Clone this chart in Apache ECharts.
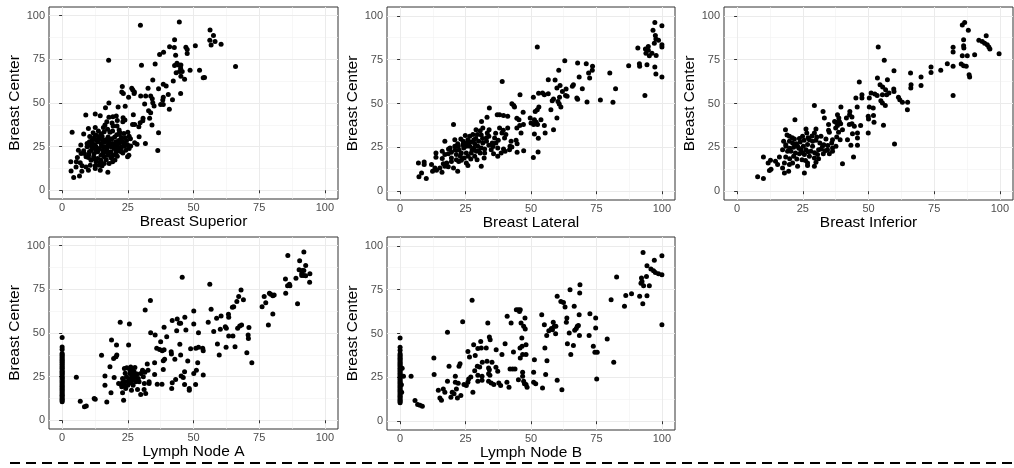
<!DOCTYPE html>
<html><head><meta charset="utf-8">
<script src="https://cdn.jsdelivr.net/npm/echarts@6/dist/echarts.min.js"></script>
<style>html,body{margin:0;padding:0;background:#fff}#c{width:1014px;height:468px}</style>
</head><body><div id="c"></div>
<script>
const yTitle = 'Breast Center';
const xTitles = ['Breast Superior', 'Breast Lateral', 'Breast Inferior', 'Lymph Node A', 'Lymph Node B'];
const tickValues = [0, 25, 50, 75, 100];
const minorValues = [12.5, 37.5, 62.5, 87.5];

const superiorPts = [[29.8,94.6],[44.6,96.4],[56.3,91.8],[57.6,88.7],[56.2,86.0],[58.2,85.2],[56.7,83.3],[60.5,83.7],[66.0,70.9],[42.8,86.2],[40.9,82.2],[42.7,81.8],[47.1,82.0],[47.6,80.7],[50.7,82.8],[38.6,79.1],[37.1,77.8],[43.2,77.4],[47.6,78.4],[17.7,74.5],[35.4,72.4],[30.2,71.6],[43.7,72.8],[44.3,71.8],[45.2,71.8],[42.8,71.5],[45.1,69.9],[48.7,68.8],[52.3,68.8],[43.4,67.4],[44.7,68.0],[45.7,68.0],[45.2,65.3],[46.6,63.6],[54.2,64.6],[53.7,64.4],[34.5,63.2],[42.3,62.6],[38.5,60.7],[39.6,59.8],[22.9,59.4],[32.7,58.4],[36.7,58.2],[26.5,58.4],[26.9,57.5],[22.7,56.3],[23.3,55.4],[27.5,56.3],[27.4,55.4],[45.1,55.4],[40.4,54.8],[25.3,53.3],[29.9,54.0],[31.8,54.0],[33.7,54.0],[38.5,53.3],[38.3,51.7],[34.3,52.5],[34.5,50.2],[42.0,51.9],[17.8,50.0],[37.5,49.2],[38.5,49.2],[31.4,49.4],[35.0,48.3],[24.0,48.1],[21.3,47.7],[16.5,47.3],[40.8,46.4],[32.9,45.6],[33.7,44.4],[9.0,43.1],[12.6,43.7],[14.5,42.7],[19.3,42.1],[20.6,42.5],[27.1,43.3],[17.8,41.8],[23.2,41.6],[30.8,41.2],[33.3,41.2],[23.9,40.2],[23.1,39.3],[17.0,39.3],[30.7,39.8],[29.7,38.7],[26.8,37.7],[27.6,37.7],[34.2,37.4],[20.9,36.8],[19.4,36.8],[16.3,37.4],[29.2,36.4],[10.0,35.4],[12.6,36.0],[15.7,36.0],[36.7,33.0],[3.8,33.3],[25.0,33.3],[21.7,32.2],[8.2,32.2],[10.5,30.8],[18.2,33.3],[29.3,30.7],[20.0,30.5],[14.3,30.8],[22.5,30.3],[24.0,30.1],[17.9,28.7],[13.0,28.7],[27.6,27.2],[31.7,26.8],[28.5,26.4],[7.1,25.9],[24.9,26.1],[26.1,25.3],[17.3,25.5],[22.7,24.9],[36.4,22.8],[25.5,24.0],[23.1,21.3],[25.4,20.1],[24.9,19.2],[11.0,23.0],[9.5,24.9],[8.2,22.6],[10.0,18.8],[12.0,19.2],[5.8,18.8],[3.3,16.3],[5.4,16.3],[6.9,15.7],[7.6,14.0],[9.1,13.4],[3.4,11.1],[6.6,8.2],[4.4,7.3],[7.5,10.9],[10.0,11.5],[12.6,14.0],[15.2,14.0],[17.4,10.3],[20.1,17.4],[18.6,18.6],[21.7,22.6],[14.8,17.2],[13.5,27.8],[14.8,26.8],[16.0,24.9],[14.1,24.0],[12.9,24.9],[11.6,24.0],[15.4,23.0],[16.7,22.0],[13.5,22.0],[12.2,21.1],[14.8,20.1],[17.3,20.1],[18.6,22.0],[19.8,24.0],[20.5,21.1],[16.0,19.2],[13.5,18.2],[11.0,17.2],[9.1,19.2],[8.5,21.1],[10.4,22.0],[12.9,16.3],[16.0,15.3],[17.9,15.3],[19.2,16.3],[14.1,14.4],[17.3,27.8],[19.2,26.8],[18.6,24.9],[20.5,27.8],[21.7,26.8],[21.1,24.9],[15.4,28.7],[11.6,26.8],[10.4,27.8],[12.3,30.5],[14.8,32.4],[16.0,33.5],[17.3,34.9],[19.2,33.9],[21.7,34.5],[22.6,28.7],[23.6,26.8],[22.3,24.0],[24.2,23.0],[7.2,21.1],[6.2,23.0],[5.3,13.4],[10.7,14.4],[12.6,12.5],[14.5,11.5],[13.0,31.5],[15.2,31.0],[17.5,30.5],[19.0,29.5],[20.8,31.8],[22.0,33.0],[11.5,29.0],[14.0,29.5],[16.5,29.0],[18.2,27.0],[20.0,26.0],[21.5,28.5],[23.0,27.5],[12.5,26.0],[15.0,25.5],[17.0,23.5],[18.0,21.5],[19.5,20.0],[15.5,21.0],[13.0,23.0],[11.0,25.5],[9.5,26.8],[10.2,20.5],[12.0,18.0],[14.5,16.0],[16.8,17.5],[18.8,19.2],[21.0,19.5],[22.5,22.0],[24.0,25.5],[20.5,23.0],[16.0,27.5],[13.8,34.0],[11.8,33.0],[24.5,28.5],[26.0,29.5],[23.5,32.5],[19.0,38.5],[21.0,40.0],[25.5,31.0]];

const lateralPts = [[97.3,96.2],[100,94.3],[96.6,91.7],[97.5,88.8],[97.7,86.7],[98.7,86.0],[97.1,84.4],[100,83.5],[100,82.2],[94.8,82.5],[93.7,81.0],[90.8,81.6],[94.8,80.3],[93.9,78.7],[95.2,77.2],[96.2,78.7],[97.8,77.4],[91.4,72.7],[91.5,71.2],[94.3,72.1],[97.3,70.8],[97.7,66.8],[100,65.1],[87.3,71.5],[80.1,67.4],[93.5,54.5],[82.3,58.4],[76.5,52.0],[81.3,50.7],[71.4,50.9],[52.4,82.2],[62.9,74.4],[67.8,73.1],[71.1,72.7],[73.5,71.2],[73.4,68.9],[72.0,67.4],[60.6,68.9],[68.4,65.1],[72.4,64.5],[56.6,63.6],[59.2,63.4],[66.2,60.7],[65.8,59.8],[61.1,60.2],[59.9,58.8],[63.4,58.3],[62.0,56.9],[69.6,58.4],[52.9,55.8],[54.4,56.0],[56.6,55.6],[55.1,55.0],[45.8,55.0],[63.8,54.1],[63.2,54.6],[60.9,53.5],[50.9,53.5],[67.5,53.1],[67.8,52.4],[58.6,52.6],[58.1,51.6],[60.3,51.2],[60.8,49.7],[61.4,48.0],[57.6,46.5],[59.9,41.7],[58.6,35.1],[42.7,49.9],[43.4,48.8],[43.7,48.0],[34.1,47.4],[39.0,62.6],[53.0,48.0],[51.6,45.5],[52.4,46.5],[47.0,45.0],[37.1,43.6],[38.0,43.6],[39.5,43.1],[41.1,42.7],[33.2,42.1],[31.1,39.8],[20.4,38.0],[49.7,41.7],[51.3,40.8],[50.0,38.9],[51.0,38.0],[53.8,40.8],[52.0,39.3],[52.5,38.0],[55.1,37.4],[47.1,38.0],[45.4,40.8],[44.6,41.6],[45.7,37.4],[44.6,36.1],[38.0,36.1],[39.4,34.7],[41.1,36.1],[38.9,33.2],[40.4,32.3],[39.9,30.4],[42.4,28.5],[42.0,25.6],[42.7,25.2],[44.3,29.0],[44.7,27.1],[46.2,33.2],[51.3,32.6],[52.8,30.2],[55.4,33.2],[47.2,23.1],[44.7,22.2],[41.8,23.7],[52.7,22.4],[50.9,19.2],[30.6,34.5],[31.6,36.1],[33.3,33.2],[33.9,31.3],[36.1,30.4],[36.6,27.5],[35.2,27.5],[33.9,26.2],[34.8,23.7],[35.7,21.4],[37.3,24.7],[38.6,21.8],[39.5,24.1],[40.1,22.8],[37.3,19.9],[32.1,19.0],[31.0,14.2],[28.5,19.9],[27.0,18.4],[29.4,18.0],[26.6,31.3],[24.9,31.7],[27.8,32.3],[29.5,32.3],[28.9,30.0],[28.2,29.4],[25.9,29.4],[24.1,28.5],[23.2,29.8],[20.9,29.4],[17.1,28.5],[19.1,24.7],[20.9,25.6],[22.2,25.6],[24.3,24.7],[25.3,25.6],[26.6,25.6],[28.2,24.7],[29.7,25.6],[31.0,24.7],[32.3,24.1],[32.3,21.8],[30.6,21.8],[29.1,22.8],[27.2,21.8],[25.3,21.8],[23.4,21.8],[21.5,20.9],[19.6,22.2],[18.4,21.3],[17.1,20.9],[16.1,22.8],[13.7,21.8],[19.6,19.0],[21.5,18.0],[23.4,17.6],[25.3,16.1],[25.9,14.6],[22.4,16.9],[19.6,16.9],[17.8,16.1],[16.5,15.7],[17.1,14.2],[15.2,13.3],[12.0,15.2],[13.3,13.3],[12.4,11.4],[13.9,12.0],[16.0,10.8],[18.4,13.9],[20.4,13.3],[22.0,11.4],[7.0,16.1],[9.2,15.2],[9.2,16.7],[8.2,10.4],[7.2,8.2],[10.0,7.2],[13.7,19.4],[16.1,18.6],[33.0,28.5],[31.6,27.5],[22.5,23.5],[24.0,26.5],[25.5,27.5],[27.0,28.0],[28.5,27.0],[30.0,28.5],[31.5,30.0],[33.0,30.5],[30.0,23.0],[27.5,23.5],[26.0,20.0],[24.5,19.0],[21.0,23.5],[18.5,24.0],[23.0,20.0],[35.5,25.5],[34.0,35.0],[36.5,33.0],[29.0,35.0],[22.0,27.0],[31.0,32.0],[37.5,29.0]];

const inferiorPts = [[85.7,94.7],[86.6,96.2],[88.0,91.7],[94.8,88.6],[92.0,86.0],[93.3,85.4],[94.2,84.4],[95.2,83.5],[95.8,82.2],[96.2,81.0],[99.7,78.4],[90.4,77.8],[86.2,86.3],[86.2,82.9],[86.3,81.6],[82.2,82.0],[82.2,79.3],[85.7,77.2],[87.6,77.2],[85.3,72.5],[86.2,71.5],[87.2,71.2],[82.2,71.2],[80.0,72.7],[77.5,68.9],[88.3,66.4],[88.5,65.1],[73.8,70.8],[73.8,67.7],[70.0,65.1],[70.0,60.2],[66.0,67.4],[66.2,60.7],[66.1,58.8],[82.2,54.5],[64.9,50.7],[64.8,46.5],[53.7,82.2],[56.0,74.6],[59.7,68.7],[53.4,64.5],[57.2,63.6],[54.4,60.7],[55.4,59.4],[56.5,57.9],[59.6,58.3],[59.7,56.9],[51.0,56.0],[52.4,55.4],[53.3,54.6],[56.9,55.0],[57.8,56.0],[61.4,53.5],[61.9,52.2],[62.9,50.7],[54.7,51.6],[55.3,50.3],[56.4,48.8],[55.3,55.0],[50.3,53.1],[47.5,53.1],[47.5,55.0],[46.5,62.2],[45.2,53.1],[50.3,48.0],[51.8,47.4],[51.9,43.1],[49.9,42.7],[50.0,41.2],[52.1,39.3],[55.7,37.6],[49.9,33.2],[59.9,26.9],[45.7,48.0],[39.5,48.0],[29.4,48.8],[32.7,45.5],[33.2,41.7],[42.9,45.5],[42.8,43.6],[43.7,42.3],[41.6,41.7],[38.7,41.7],[38.2,43.6],[37.1,39.8],[37.6,39.3],[38.9,39.8],[39.4,38.5],[38.2,37.4],[37.5,36.1],[40.1,35.1],[42.7,38.0],[43.7,38.5],[44.6,37.0],[47.0,37.4],[45.8,33.2],[45.8,30.4],[45.8,26.2],[42.0,29.4],[43.3,26.2],[43.9,32.8],[44.3,19.5],[40.1,15.7],[38.6,33.6],[39.2,29.4],[37.9,30.9],[34.8,34.7],[35.1,33.6],[34.8,38.0],[30.0,35.5],[22.0,40.8],[18.4,35.1],[26.2,35.5],[26.5,33.2],[29.4,33.2],[30.3,30.9],[31.9,31.3],[33.8,29.8],[36.3,29.4],[37.6,25.6],[36.3,24.7],[34.4,23.7],[32.5,25.6],[31.0,23.7],[28.7,25.6],[26.8,26.6],[25.2,25.6],[23.0,25.6],[21.1,27.5],[19.9,28.5],[17.7,28.5],[18.6,25.6],[19.2,22.8],[17.3,23.7],[20.5,22.8],[22.2,21.8],[23.7,21.4],[25.6,20.9],[27.5,19.9],[29.4,19.0],[30.0,16.5],[29.4,14.2],[26.8,16.1],[24.7,18.0],[22.7,18.4],[21.1,16.1],[19.9,15.2],[18.0,16.1],[17.3,13.3],[18.0,10.4],[19.6,11.4],[23.0,14.2],[25.6,10.4],[26.8,14.6],[16.1,19.5],[14.6,17.1],[12.7,17.6],[11.8,16.1],[15.4,15.2],[12.3,11.8],[12.9,12.5],[10.0,19.5],[7.8,8.2],[10.0,7.2],[30.6,20.9],[32.8,21.4],[35.1,21.4],[36.3,22.8],[28.1,22.8],[24.3,23.7],[26.2,23.7],[23.7,30.0],[24.9,31.3],[21.8,29.8],[19.9,31.3],[27.5,29.4],[28.7,28.5],[18.5,26.5],[20.0,24.5],[21.5,25.0],[22.5,27.0],[24.0,28.0],[25.5,29.0],[27.0,30.5],[28.5,31.5],[30.0,29.0],[31.5,27.5],[33.0,26.5],[34.5,26.0],[32.0,24.0],[29.5,22.0],[27.0,22.5],[25.0,22.0],[23.5,24.5],[21.5,20.0],[20.0,18.5],[18.5,19.5],[26.0,17.5],[31.0,18.5],[33.5,23.0],[36.0,27.5],[19.0,32.0],[21.0,30.5]];

const nodeAZeroY = [47.4,42.0,40.6,38.3,37.5,36.8,36.0,35.1,34.4,33.6,32.9,32.1,31.2,30.5,29.8,29.0,28.1,27.4,26.7,25.9,25.0,24.3,23.6,22.8,22.0,21.3,20.5,19.7,19.0,18.2,17.5,16.7,15.9,15.1,14.4,13.6,12.8,12.1,11.3,10.6];
const nodeAPts = [[5.4,24.7],[6.9,10.9],[8.5,7.7],[9.2,8.2],[12.2,12.5],[12.6,12.1],[15.0,37.2],[16.3,25.3],[16.3,20.1],[17.0,10.5],[18.2,30.7],[18.8,46.0],[18.6,15.7],[19.6,35.4],[20.5,36.4],[20.8,37.4],[20.7,43.1],[19.8,24.5],[22.1,56.1],[21.5,21.1],[22.3,20.7],[23.0,21.6],[22.7,19.2],[23.0,15.7],[23.4,11.5],[23.9,22.2],[23.9,20.1],[24.2,18.2],[23.7,29.7],[24.6,30.1],[25.3,43.1],[25.6,55.2],[25.8,28.7],[25.8,26.8],[25.9,24.0],[26.1,30.5],[26.1,21.5],[26.4,17.2],[26.8,24.9],[27.1,23.0],[27.4,27.8],[27.7,30.3],[27.9,24.9],[28.0,22.0],[28.7,23.0],[28.7,17.6],[29.3,22.0],[29.9,14.8],[29.9,26.8],[30.6,28.7],[30.9,24.9],[31.2,17.6],[31.3,21.1],[31.8,15.3],[31.6,63.2],[32.4,32.2],[32.7,28.7],[33.1,22.0],[33.1,21.1],[33.6,68.6],[33.7,50.2],[35.4,48.9],[35.2,33.0],[35.2,26.2],[36.2,20.7],[36.0,41.2],[37.1,40.6],[37.5,45.0],[38.1,39.8],[38.8,40.4],[38.5,34.1],[38.5,29.1],[38.0,20.7],[39.0,35.0],[38.8,53.3],[39.8,47.9],[41.5,39.3],[41.6,37.9],[41.7,18.2],[41.9,21.5],[41.9,57.1],[43.2,23.4],[42.9,34.9],[43.6,51.3],[43.8,58.0],[44.6,55.6],[45.1,55.6],[44.8,43.5],[45.1,37.4],[45.3,25.3],[45.7,82.0],[46.1,24.5],[46.6,27.8],[46.6,20.5],[46.7,59.0],[47.1,51.7],[47.8,33.9],[48.4,18.2],[48.4,17.2],[48.9,41.0],[50.1,62.6],[50.1,55.2],[50.1,26.8],[50.8,20.5],[50.9,41.2],[51.1,28.7],[51.6,33.0],[51.9,41.8],[51.9,50.2],[53.5,41.2],[53.7,39.8],[53.7,25.9],[55.6,56.1],[56.2,78.0],[56.7,63.6],[57.7,50.8],[58.8,58.4],[59.1,43.7],[59.8,37.4],[60.2,52.1],[60.5,59.8],[62.1,53.6],[62.5,52.7],[62.4,41.8],[63.3,60.7],[63.4,59.0],[63.4,48.3],[64.8,64.8],[65.3,65.1],[65.0,48.3],[65.8,42.1],[66.5,68.0],[66.8,52.7],[67.2,70.9],[67.6,54.0],[68.1,74.7],[68.3,54.6],[69.0,69.0],[70.3,38.7],[70.8,48.9],[70.9,46.9],[71.1,53.1],[72.2,33.0],[76.1,65.1],[76.9,70.9],[77.5,67.4],[78.5,54.6],[78.9,72.8],[79.4,72.2],[80.2,71.3],[80.7,71.8],[80.2,60.9],[85.0,81.0],[85.1,72.8],[85.9,94.4],[85.8,77.0],[86.5,78.0],[86.7,77.0],[89.0,81.4],[89.6,66.7],[90.2,86.2],[90.4,91.4],[92.0,96.4],[92.7,88.7],[91.4,85.8],[91.2,83.0],[92.0,85.8],[92.0,83.0],[92.7,82.8],[94.3,83.9],[94.2,79.1],[91.2,84.1],[23.0,24.0],[24.5,25.0],[25.2,22.5],[26.5,26.0],[27.5,25.5],[28.5,26.5],[24.0,27.0],[27.0,20.0],[29.0,24.0],[25.0,20.0],[26.8,28.5],[31.5,27.5]];

const nodeBZeroY = [47.5,42.1,40.4,38.4,37.6,36.7,35.9,35.2,34.3,33.5,32.8,32.0,31.3,30.4,29.7,28.9,28.2,27.3,26.6,25.8,25.1,24.2,23.5,22.7,21.9,21.2,20.4,19.6,18.9,18.1,17.4,16.6,15.8,15.0,14.3,13.5,12.7,11.9,11.2,10.5];
const nodeBPts = [[1.3,25.6],[0.6,16.5],[0.8,30.2],[0.5,20.8],[4.2,25.6],[5.7,11.8],[6.7,9.5],[7.6,9.1],[8.5,8.5],[12.9,36.1],[13.0,26.6],[14.6,17.6],[15.2,13.3],[15.8,12.0],[16.5,18.4],[17.1,16.5],[18.1,50.7],[18.1,22.8],[18.7,31.3],[19.4,13.7],[19.9,16.5],[20.6,15.6],[21.1,25.6],[21.1,22.2],[21.5,18.4],[21.9,13.3],[22.2,21.6],[22.5,31.3],[22.9,32.8],[23.2,14.6],[23.9,56.7],[24.4,20.9],[25.3,20.3],[25.9,22.2],[25.9,39.8],[26.5,36.6],[26.2,24.1],[27.0,25.2],[27.5,68.9],[27.8,16.5],[28.1,43.6],[28.5,28.8],[28.7,37.4],[29.5,31.3],[29.7,26.2],[29.7,41.4],[29.7,22.8],[30.4,30.9],[30.8,45.5],[31.0,41.7],[31.3,25.6],[31.4,33.6],[31.3,23.3],[32.9,41.7],[33.2,34.2],[33.5,56.0],[34.1,48.0],[34.4,46.5],[33.8,30.4],[34.1,29.4],[33.8,27.1],[34.3,26.2],[33.8,22.8],[34.8,21.8],[35.1,33.6],[35.8,20.9],[36.6,30.7],[36.7,40.8],[37.3,28.5],[37.7,21.8],[38.4,20.3],[38.9,38.0],[40.1,44.2],[40.8,22.2],[40.9,59.8],[41.6,19.4],[42.4,56.0],[42.0,29.8],[43.0,29.8],[43.3,39.5],[43.9,29.8],[44.4,63.6],[45.2,63.6],[45.9,63.6],[45.6,62.6],[45.2,23.7],[45.8,41.7],[45.9,36.1],[46.2,56.0],[46.5,47.4],[46.6,42.7],[46.8,38.0],[46.8,27.9],[46.8,25.6],[47.2,22.8],[47.2,54.1],[47.7,58.8],[47.8,52.6],[48.1,38.0],[48.1,43.6],[47.5,21.4],[48.1,20.9],[48.5,19.4],[51.0,22.2],[51.0,27.9],[51.3,35.1],[51.8,21.4],[54.1,60.7],[54.4,19.0],[55.1,55.0],[55.3,41.7],[55.6,26.6],[56.0,48.8],[56.1,34.5],[56.8,51.6],[57.8,52.8],[58.2,52.2],[58.5,56.4],[58.9,54.1],[59.4,49.9],[59.5,54.1],[60.0,23.3],[60.0,71.2],[61.8,18.0],[61.4,68.3],[62.4,67.7],[63.0,65.1],[63.7,58.8],[63.5,56.4],[63.9,44.2],[64.6,50.3],[64.9,75.0],[65.2,38.0],[66.2,43.1],[66.5,65.5],[66.7,51.8],[67.3,52.8],[67.7,54.1],[68.1,54.6],[68.4,60.7],[68.6,73.1],[68.7,77.8],[68.5,48.8],[72.2,48.8],[72.5,61.3],[73.8,42.7],[74.4,39.3],[74.7,58.8],[74.7,53.1],[75.1,24.1],[75.3,39.3],[79.1,46.9],[80.6,69.3],[81.6,33.6],[82.7,82.2],[85.7,65.5],[86.2,71.7],[88.4,72.7],[91.5,71.2],[92.0,78.7],[92.2,81.6],[92.4,79.7],[92.7,67.0],[92.8,96.2],[93.0,77.2],[94.1,82.5],[94.3,88.6],[94.3,71.5],[95.2,77.2],[95.8,86.7],[97.1,91.7],[96.8,85.8],[97.5,84.8],[98.7,84.1],[100,94.3],[100,83.5],[100,55.0]];

const panelData = [
  superiorPts,
  lateralPts,
  inferiorPts,
  nodeAZeroY.map(v => [0, v]).concat(nodeAPts),
  nodeBZeroY.map(v => [0, v]).concat(nodeBPts)
];

const grids = [
  {left: 49, top: 7, width: 289, height: 192},
  {left: 387, top: 7, width: 288, height: 193},
  {left: 724, top: 7, width: 289, height: 193},
  {left: 49, top: 237, width: 289, height: 192},
  {left: 387, top: 237, width: 288, height: 193}
];

const FONT = '"Liberation Sans", Arial, Helvetica, sans-serif';

function majorAxis(i, isX) {
  return {
    type: 'value', gridIndex: i, min: -5, max: 105,
    name: isX ? xTitles[i] : yTitle,
    nameLocation: 'middle',
    nameGap: isX ? 14 : 22,
    nameTextStyle: {color: '#000', fontSize: 15.5, fontFamily: FONT},
    axisLine: {show: false},
    axisTick: {show: true, length: 3, lineStyle: {color: '#333', width: 1}, customValues: tickValues},
    axisLabel: {show: true, color: '#4d4d4d', fontSize: 11, fontFamily: FONT, margin: isX ? 3 : 4, customValues: tickValues},
    splitLine: {show: true, lineStyle: {color: '#ebebeb', width: 1}, customValues: tickValues},
    z: 1
  };
}
function minorAxis(i) {
  return {
    type: 'value', gridIndex: i, min: -5, max: 105,
    axisLine: {show: false},
    axisTick: {show: false, customValues: minorValues},
    axisLabel: {show: false, customValues: minorValues},
    splitLine: {show: true, lineStyle: {color: '#f2f2f2', width: 0.6}, customValues: minorValues},
    z: 0
  };
}

const xAxes = [], yAxes = [], series = [];
for (let i = 0; i < 5; i++) { xAxes.push(majorAxis(i, true)); yAxes.push(majorAxis(i, false)); }
for (let i = 0; i < 5; i++) { xAxes.push(minorAxis(i)); yAxes.push(minorAxis(i)); }
for (let i = 0; i < 5; i++) {
  series.push({
    type: 'scatter', xAxisIndex: i, yAxisIndex: i,
    data: panelData[i], symbolSize: 5,
    itemStyle: {color: '#000', opacity: 1},
    silent: true, animation: false, z: 3
  });
}

const chart = echarts.init(document.getElementById('c'), null, {renderer: 'canvas'});
chart.setOption({
  backgroundColor: '#fff',
  animation: false,
  grid: grids.map(g => Object.assign({show: true, borderColor: '#333', borderWidth: 1, backgroundColor: 'transparent', containLabel: false}, g)),
  xAxis: xAxes,
  yAxis: yAxes,
  series: series,
  graphic: [{
    type: 'line', z: 10,
    shape: {x1: 10, y1: 463, x2: 1014, y2: 463},
    style: {stroke: '#000', lineWidth: 2, lineDash: [10, 6]}
  }]
});
</script></body></html>
